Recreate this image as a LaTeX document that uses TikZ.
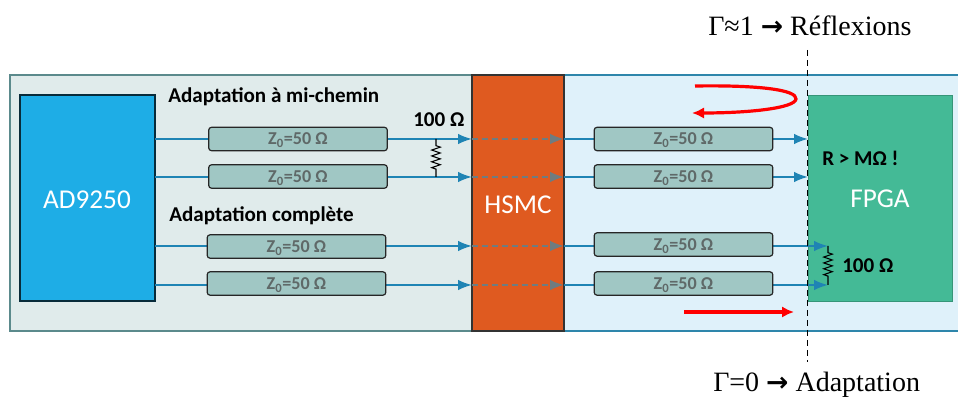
\documentclass[tikz,border=0pt]{standalone}
\usepackage{fontspec}
\setmainfont{Carlito}
\newfontfamily\serifface{Liberation Serif}
\newfontfamily\arrowface{DejaVu Sans}
\usetikzlibrary{arrows.meta,decorations.pathmorphing}
\definecolor{panelL}{HTML}{E0EBEB}
\definecolor{panelR}{HTML}{DFF1FA}
\definecolor{panelLine}{HTML}{5B8A8C}
\definecolor{panelLineR}{HTML}{2E86AB}
\definecolor{chipBlue}{HTML}{1EADE6}
\definecolor{chipOrange}{HTML}{DF5A20}
\definecolor{chipGreen}{HTML}{44BA96}
\definecolor{lineBlue}{HTML}{1F84B4}
\definecolor{tlineFill}{HTML}{A0C7C4}
\definecolor{zText}{HTML}{5F6968}
\definecolor{dashGray}{HTML}{6E7C80}
\tikzset{
  x=0.75pt,y=-0.75pt,
  block/.style={rectangle,inner sep=0pt,outer sep=0pt,anchor=north west,text=white},
  chiptext/.style={text=white,inner sep=0pt,font=\fontsize{20.4pt}{22pt}\selectfont},
  tline/.style={rectangle,rounded corners=2.2pt,draw=black!85,line width=0.9pt,fill=tlineFill,inner sep=0pt,outer sep=0pt,
     minimum width=134pt,minimum height=17.6pt,text=zText,text depth=0pt,font=\fontsize{13.6pt}{14pt}\selectfont\bfseries},
  sig/.style={draw=lineBlue,line width=1.5pt,-{Latex[length=10.5pt,width=8pt]}},
  dashsig/.style={draw=dashGray,line width=1.5pt,dash pattern=on 4.5pt off 3pt,-{Latex[length=10.5pt,width=8pt]}},
  resistor/.style={draw=black,line width=0.8pt,decorate,decoration={zigzag,segment length=4.4pt,amplitude=3.2pt,pre length=5pt,post length=5pt}},
  lab/.style={text=black,inner sep=0pt,font=\fontsize{15.8pt}{17pt}\selectfont\bfseries},
  bigtext/.style={text=black,inner sep=0pt,font=\fontsize{21pt}{23pt}\serifface},
  redarrow/.style={draw=red,line width=2.4pt,-{Latex[length=9pt,width=8.5pt]}},
}
\newcommand{\zz}{Z\textsubscript{0}=50 Ω}
\newcommand{\bigarr}{{\arrowface\bfseries\fontsize{20pt}{22pt}\selectfont →}}
\begin{document}
\begin{tikzpicture}
\useasboundingbox (0,0) rectangle (958,398);
% panels
\node[rectangle,inner sep=0pt,outer sep=0pt,anchor=north west,fill=panelL,draw=panelLine,line width=0.9pt,minimum width=346.5pt,minimum height=192pt] (pl) at (10,75) {};
\fill[panelR] (564,75) rectangle (958,331);
\draw[panelLineR,line width=0.9pt] (564,75) -- (958,75) (564,331) -- (958,331);
% chips
\node[block,fill=chipBlue,draw=black!75!chipBlue,line width=0.9pt,minimum width=101.25pt,minimum height=154.5pt] (ad) at (20,95) {};
\node[chiptext] (adt) at (87,200) {AD9250};
\node[block,fill=chipGreen,draw=chipGreen!80!black,line width=0.7pt,minimum width=108pt,minimum height=154.5pt] (fp) at (808,95) {};
\node[chiptext] (fpt) at (880,199) {FPGA};
% endpoints
\coordinate (a1) at (155,139); \coordinate (a2) at (155,177); \coordinate (a3) at (155,246); \coordinate (a4) at (155,285);
\coordinate (b1) at (472,139); \coordinate (b2) at (472,177); \coordinate (b3) at (472,246); \coordinate (b4) at (472,285);
\coordinate (c1) at (564,139); \coordinate (c2) at (564,177); \coordinate (c3) at (564,246); \coordinate (c4) at (564,285);
\coordinate (d1) at (808,139); \coordinate (d2) at (808,177); \coordinate (d3) at (828,246); \coordinate (d4) at (828,285);
\coordinate (e3) at (828,246); \coordinate (e4) at (828,285);
\coordinate (r1) at (436,139); \coordinate (r2) at (436,177);
% HSMC
\node[block,fill=chipOrange,draw=black!80,line width=0.9pt,minimum width=69pt,minimum height=192pt] (hs) at (472,75) {};
\node[chiptext] (hst) at (518,205) {HSMC};
% signals
\foreach \i in {1,2,3,4}{
  \draw[sig] (a\i) -- (b\i);
  \draw[dashsig] (b\i) -- (c\i);
  \draw[sig] (c\i) -- (d\i);
}
% t-lines
\node[tline] (t1) at (298,139) {\zz};
\node[tline] (t2) at (298,176.5) {\zz};
\node[tline] (t3) at (296.5,246.5) {\zz};
\node[tline] (t4) at (296.5,283.5) {\zz};
\node[tline] (t5) at (683.5,139) {\zz};
\node[tline] (t6) at (683.5,176.5) {\zz};
\node[tline] (t7) at (683.5,244.5) {\zz};
\node[tline] (t8) at (683.5,283.5) {\zz};
% resistors
\draw[resistor] (r1) -- (r2);
\draw[resistor] (e3) -- (e4);
% labels
\node[lab,anchor=west] (l1) at (168,97) {Adaptation à mi-chemin};
\node[lab,anchor=west] (l2) at (169,216) {Adaptation complète};
\node[lab,anchor=west] (l3) at (413,120) {100 Ω};
\node[lab,anchor=west] (l4) at (842,266) {100 Ω};
\node[lab,anchor=west] (l5) at (822,158) {R > MΩ !};
% boundary
\coordinate (v1) at (807.5,50); \coordinate (v2) at (807.5,362);
\draw[black,line width=0.8pt,dash pattern=on 4.5pt off 3pt] (v1) -- (v2);
% red arrows
\coordinate (ra) at (695,86); \coordinate (rb) at (692,113);
\draw[redarrow] (ra) .. controls (760,85) and (797,90) .. (796,99) .. controls (795,108) and (750,113) .. (rb);
\coordinate (rc) at (684,312); \coordinate (rd) at (794,312);
\draw[redarrow] (rc) -- (rd);
% headings
\node[bigtext,anchor=west] (h1) at (708,26) {Γ≈1 \bigarr{} Réflexions};
\node[bigtext,anchor=west] (h2) at (713,384.5) {Γ=0 \bigarr{} Adaptation};
\end{tikzpicture}
\end{document}
